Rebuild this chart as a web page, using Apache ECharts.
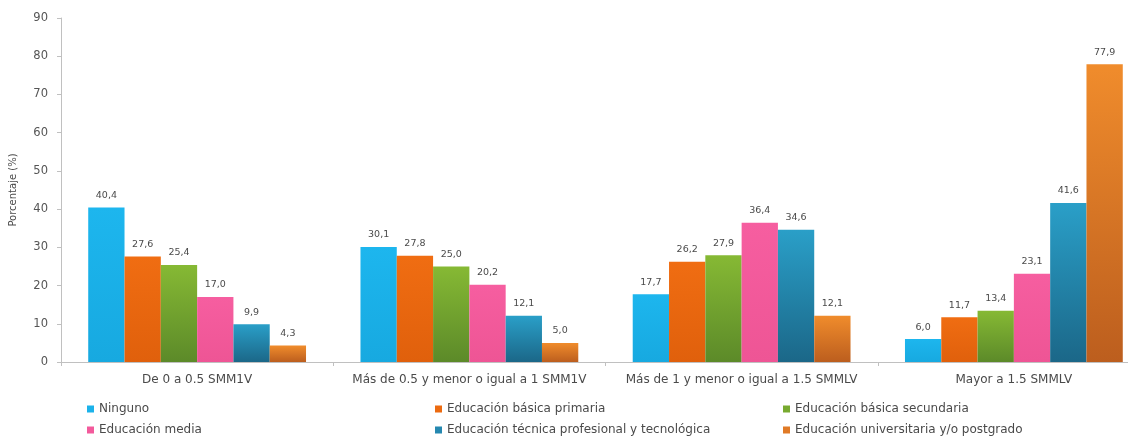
<!DOCTYPE html>
<html>
<head>
<meta charset="utf-8">
<script src="https://cdn.jsdelivr.net/npm/echarts@6/dist/echarts.min.js"></script>
<style>
  html, body { margin: 0; padding: 0; background: #ffffff; overflow: hidden; }
  /* the plot runs a little past the right edge of the page */
  #chart { width: 1150px; height: 440px; }
</style>
</head>
<body>
<div id="chart"></div>
<script>
// Income brackets (salario mínimo mensual legal vigente)
const categories = ['De 0 a 0.5 SMM1V', 'Más de 0.5 y menor o igual a 1 SMM1V', 'Más de 1 y menor o igual a 1.5 SMMLV', 'Mayor a 1.5 SMMLV'];

// Share of each education level within each bracket (%)
const ninguno       = [40.4, 30.1, 17.7, 6.0];
const primaria      = [27.6, 27.8, 26.2, 11.7];
const secundaria    = [25.4, 25.0, 27.9, 13.4];
const media         = [17.0, 20.2, 36.4, 23.1];
const tecnica       = [9.9, 12.1, 34.6, 41.6];
const universitaria = [4.3, 5.0, 12.1, 77.9];

const seriesNames = ['Ninguno', 'Educación básica primaria', 'Educación básica secundaria', 'Educación media', 'Educación técnica profesional y tecnológica', 'Educación universitaria y/o postgrado'];
const yTicks = [0, 10, 20, 30, 40, 50, 60, 70, 80, 90];

const FONT = '"DejaVu Sans", "Liberation Sans", sans-serif';
const TEXT = '#4a4a4a';

function vgrad(top, bottom) {
  return new echarts.graphic.LinearGradient(0, 0, 0, 1, [
    { offset: 0, color: top },
    { offset: 1, color: bottom }
  ]);
}

const fills = [
  vgrad('#1db6ee', '#17a9e0'),
  vgrad('#f06d12', '#e0600c'),
  vgrad('#86b934', '#5c8a29'),
  vgrad('#f65ea0', '#ee5595'),
  vgrad('#2a9fc8', '#1b6788'),
  vgrad('#f08c2c', '#bc5e1e')
];
const legendColors = ['#1bb2ea', '#ec6a10', '#78aa30', '#f35a9c', '#2588b0', '#e07a26'];

const values = [ninguno, primaria, secundaria, media, tecnica, universitaria];

const series = seriesNames.map((name, i) => ({
  name: name,
  type: 'bar',
  data: values[i],
  barGap: '0%',
  barCategoryGap: '20%',
  itemStyle: { color: fills[i] },
  label: {
    show: true,
    position: 'top',
    distance: 7,
    fontSize: 9.5,
    fontFamily: FONT,
    color: TEXT,
    formatter: p => p.value.toFixed(1).replace('.', ',')
  }
}));

// legend laid out as a 3 x 2 table
const legendCols = [82, 430, 778];
const legendRows = [398, 419];
const legends = seriesNames.map((name, i) => ({
  data: [{ name: name, itemStyle: { color: legendColors[i] } }],
  left: legendCols[i % 3],
  top: legendRows[Math.floor(i / 3)],
  itemWidth: 7,
  itemHeight: 7,
  itemGap: 5,
  icon: 'rect',
  selectedMode: false,
  textStyle: { fontSize: 12, fontFamily: FONT, color: TEXT, padding: [0, 0, 0, 0] }
}));

const chart = echarts.init(document.getElementById('chart'), null, { renderer: 'canvas' });
chart.setOption({
  backgroundColor: '#ffffff',
  animation: false,
  legend: legends,
  grid: { left: 58, width: 1092, top: 18, height: 344, containLabel: false },
  xAxis: {
    type: 'category',
    data: categories,
    axisLine: { lineStyle: { color: '#c0c0c0', width: 1 } },
    axisTick: { show: true, length: 4, lineStyle: { color: '#c0c0c0' } },
    axisLabel: { interval: 0, fontSize: 12, fontFamily: FONT, color: TEXT, margin: 12 }
  },
  yAxis: {
    type: 'value',
    min: yTicks[0],
    max: yTicks[yTicks.length - 1],
    interval: 10,
    name: 'Porcentaje (%)',
    nameLocation: 'middle',
    nameRotate: 90,
    nameGap: 43,
    nameTextStyle: { fontSize: 10, fontFamily: FONT, color: TEXT },
    axisLine: { show: true, lineStyle: { color: '#c0c0c0', width: 1 } },
    axisTick: { show: true, length: 4, lineStyle: { color: '#c0c0c0' } },
    splitLine: { show: false },
    axisLabel: { fontSize: 11.5, fontFamily: FONT, color: '#555555', margin: 13 }
  },
  series: series
});
</script>
</body>
</html>
